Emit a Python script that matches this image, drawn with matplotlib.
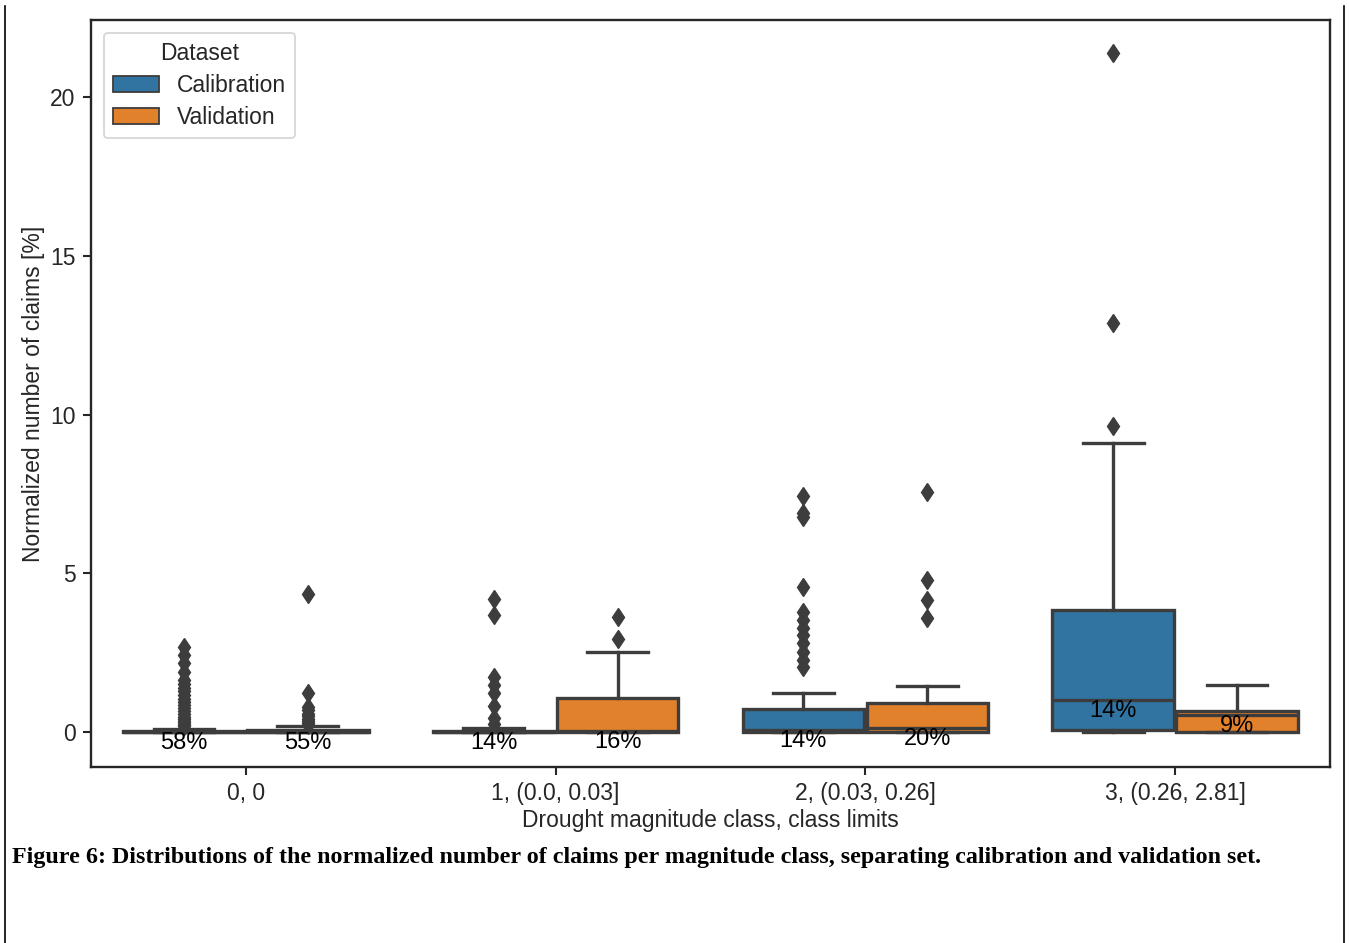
import matplotlib
matplotlib.use("Agg")
import matplotlib.pyplot as plt
from matplotlib.patches import Patch
from matplotlib.lines import Line2D

# ---------------- data ----------------
categories = ["0, 0", "1, (0.0, 0.03]", "2, (0.03, 0.26]", "3, (0.26, 2.81]"]
datasets = ["Calibration", "Validation"]

calib_q1 = [0.0, 0.0, 0.0, 0.06]
calib_med = [0.0, 0.0, 0.05, 1.0]
calib_q3 = [0.04, 0.04, 0.72, 3.84]
calib_whislo = [0.0, 0.0, 0.0, 0.0]
calib_whishi = [0.1, 0.14, 1.22, 9.1]
calib_fliers = [
    [2.68, 2.42, 2.17, 1.9, 1.65, 1.52, 1.4, 1.28, 1.16, 1.05, 0.95, 0.85,
     0.75, 0.66, 0.57, 0.49, 0.42, 0.35, 0.29, 0.23, 0.18],
    [4.2, 3.68, 1.74, 1.48, 1.22, 0.82, 0.44, 0.25],
    [7.43, 6.9, 6.78, 4.57, 3.79, 3.53, 3.27, 3.05, 2.8, 2.53, 2.27, 2.05],
    [21.4, 12.9, 9.64],
]
calib_pct = ["58%", "14%", "14%", "14%"]

valid_q1 = [0.0, 0.0, 0.0, 0.0]
valid_med = [0.0, 0.03, 0.12, 0.55]
valid_q3 = [0.05, 1.07, 0.91, 0.66]
valid_whislo = [0.0, 0.0, 0.0, 0.0]
valid_whishi = [0.18, 2.52, 1.45, 1.48]
valid_fliers = [
    [4.35, 1.22, 0.78, 0.68, 0.58, 0.5, 0.42, 0.35, 0.28, 0.22],
    [3.63, 2.93],
    [7.57, 4.79, 4.16, 3.59],
    [],
]
valid_pct = ["55%", "16%", "20%", "9%"]

yticks = [0, 5, 10, 15, 20]
caption = ("Figure 6: Distributions of the normalized number of claims per magnitude class, "
           "separating calibration and validation set.")

# ---------------- style ----------------
plt.rcParams['font.family'] = ['Liberation Sans', 'DejaVu Sans']
text_col = "#262626"
line_gray = "#3d3d3d"
colors = ["#3274a1", "#e1812c"]

W, H = 1349, 943
fig = plt.figure(figsize=(W / 100, H / 100), dpi=100)
ax = fig.add_axes([91 / W, 1 - 767 / H, (1330 - 91) / W, (767 - 20) / H])


def make_stats(q1, med, q3, lo, hi, fl):
    return [dict(q1=a, med=b, q3=c, whislo=d, whishi=e, fliers=f)
            for a, b, c, d, e, f in zip(q1, med, q3, lo, hi, fl)]


groups = [
    (make_stats(calib_q1, calib_med, calib_q3, calib_whislo, calib_whishi, calib_fliers),
     -0.2, colors[0], calib_med, calib_pct),
    (make_stats(valid_q1, valid_med, valid_q3, valid_whislo, valid_whishi, valid_fliers),
     0.2, colors[1], valid_med, valid_pct),
]

lw = 2.4
for stats, off, col, meds, pcts in groups:
    pos = [i + off for i in range(len(categories))]
    ax.bxp(stats, positions=pos, widths=0.392, patch_artist=True,
           boxprops=dict(facecolor=col, edgecolor=line_gray, linewidth=lw),
           medianprops=dict(color=line_gray, linewidth=lw),
           whiskerprops=dict(color=line_gray, linewidth=lw),
           capprops=dict(color=line_gray, linewidth=lw),
           flierprops=dict(marker="d", markerfacecolor=line_gray,
                           markeredgecolor=line_gray, markersize=9.5,
                           markeredgewidth=1, linestyle="none"),
           manage_ticks=False)
    for p, m, t in zip(pos, meds, pcts):
        ax.text(p, m, t, ha="center", va="top", fontsize=17, color="black")

ax.set_xlim(-0.5, 3.5)
ax.set_ylim(-1.1, 22.43)
ax.set_xticks(range(len(categories)))
ax.set_xticklabels(categories)
ax.set_yticks(yticks)
ax.set_yticklabels([str(v) for v in yticks])
ax.tick_params(axis="both", direction="out", length=6, width=1.5,
               color=text_col, labelcolor=text_col, labelsize=16.5, pad=5)
for s in ax.spines.values():
    s.set_color(text_col)
    s.set_linewidth(1.7)

ax.set_xlabel("Drought magnitude class, class limits", fontsize=16.5, color=text_col,
              labelpad=3)
ax.set_ylabel("Normalized number of claims [%]", fontsize=16.5, color=text_col)

handles = [Patch(facecolor=c, edgecolor=line_gray, linewidth=1.3) for c in colors]
leg = ax.legend(handles, datasets, title="Dataset", loc="upper left",
                fontsize=16.5, title_fontsize=16.5, frameon=True, fancybox=True,
                labelspacing=0.4, borderaxespad=0.55)
leg.get_frame().set_edgecolor("#cccccc")
leg.get_frame().set_linewidth(1.3)
for t in leg.get_texts():
    t.set_color(text_col)
leg.get_title().set_color(text_col)

fig.text(12 / W, 1 - 857 / H, caption, fontfamily="Liberation Serif",
         fontweight="bold", fontsize=17.25, va="center", ha="left", color="black")

# page border lines
for xpix in (5, 1344):
    fig.add_artist(Line2D([xpix / W, xpix / W], [1 - 6 / H, 0], color="black",
                          linewidth=1.2, transform=fig.transFigure))

fig.savefig("out.png", dpi=100)
